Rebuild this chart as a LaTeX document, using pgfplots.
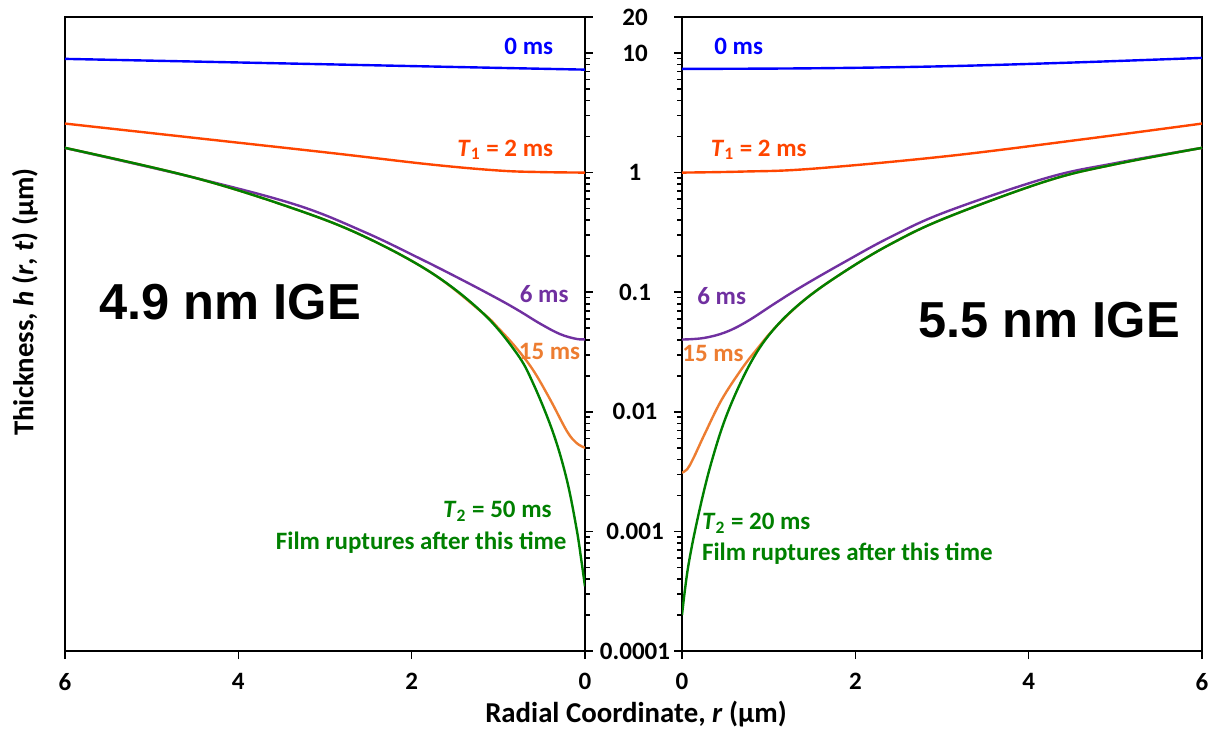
\documentclass[border=0pt]{standalone}
\usepackage{pgfplots}
\pgfplotsset{compat=1.18}
\usepackage{fontspec}
\setmainfont{Carlito}
\newfontfamily\arialfont{Liberation Sans}

\definecolor{cblue}{RGB}{0,0,255}
\definecolor{cred}{RGB}{255,69,0}
\definecolor{cpurple}{RGB}{112,48,160}
\definecolor{corange}{RGB}{237,125,49}
\definecolor{cgreen}{RGB}{0,128,0}

\newcommand{\lbl}{\bfseries\fontsize{12.5}{15}\selectfont}

\pgfplotsset{
  panel/.style={
    anchor=south west, scale only axis,
    width=260pt, height=317pt,
    xmin=0, xmax=6, ymin=0.0001, ymax=20,
    xtick={0,2,4,6}, xticklabels={0,2,4,6},
    ytick={0.0001,0.001,0.01,0.1,1,10,20},
    minor ytick={0.0002,0.0003,0.0004,0.0005,0.0006,0.0007,0.0008,0.0009,
      0.002,0.003,0.004,0.005,0.006,0.007,0.008,0.009,
      0.02,0.03,0.04,0.05,0.06,0.07,0.08,0.09,
      0.2,0.3,0.4,0.5,0.6,0.7,0.8,0.9,
      2,3,4,5,6,7,8,9},
    tick align=outside, xtick pos=bottom,
    major tick length=4pt, minor tick length=2.5pt,
    tick style={black, line width=0.8pt},
    axis line style={line width=1.1pt},
    ticklabel style={font=\lbl},
    xticklabel style={yshift=-3.5pt},
    clip mode=individual,
  },
  crv/.style={smooth, tension=0.6, line width=1.2pt, mark=none, color=#1},
}

\begin{document}
\begin{tikzpicture}
\path[use as bounding box] (0pt,0pt) rectangle (604pt,364pt);

% left panel: 4.9 nm, r runs from 6 to 0
\begin{axis}[ymode=log, panel, at={(32.5pt,38.5pt)}, x dir=reverse,
  ytick pos=right, yticklabels={}]
\addplot[crv=cblue] coordinates {(0,7.26) (1.5,7.64) (3,8.05) (4.5,8.48) (6,8.93)};
\addplot[crv=cred] coordinates {(0,1.00) (0.5,1.01) (0.99,1.04) (1.77,1.167) (2.94,1.462) (4.5,1.95) (6,2.57)};
\addplot[crv=cpurple] coordinates {(0,0.0404) (0.1,0.0407) (0.29,0.0447) (0.52,0.0547) (0.75,0.0692) (0.98,0.0861) (1.37,0.1216) (1.9,0.1905) (2.55,0.320) (3.33,0.537) (4.5,0.904) (6,1.607)};
\addplot[crv=corange] coordinates {(0,0.0050) (0.1,0.0055) (0.21,0.00692) (0.4,0.0126) (0.6,0.0224) (0.8,0.0347) (1.0,0.0501) (1.18,0.0671) (1.77,0.145) (2.55,0.293) (3.33,0.491) (4.5,0.904) (6,1.61)};
\addplot[crv=cgreen] coordinates {(0,0.000347) (0.038,0.000546) (0.096,0.00104) (0.21,0.00271) (0.37,0.00676) (0.6,0.0174) (0.79,0.031) (1.18,0.0671) (1.77,0.145) (2.55,0.293) (3.33,0.491) (4.5,0.904) (6,1.61)};

\node[anchor=base east, inner sep=0, text=cblue, font=\lbl] at (axis cs:0.363,9.70) {0 ms};
\node[anchor=base east, inner sep=0, text=cred, font=\lbl] at (axis cs:0.363,1.369) {\textit{T}\textsubscript{1} = 2 ms};
\node[anchor=base east, inner sep=0, text=cpurple, font=\lbl] at (axis cs:0.185,0.0818) {6 ms};
\node[anchor=base east, inner sep=0, text=corange, font=\lbl] at (axis cs:0.051,0.02732) {15 ms};
\node[anchor=base east, inner sep=0, text=cgreen, font=\lbl] at (axis cs:0.381,0.001304) {\textit{T}\textsubscript{2} = 50 ms};
\node[anchor=base east, inner sep=0, text=cgreen, font=\lbl] at (axis cs:0.208,0.000704) {Film ruptures after this time};
\node[anchor=base west, inner sep=0, font=\arialfont\bfseries\fontsize{25.3}{30}\selectfont] at (axis cs:5.609,0.0590) {4.9 nm IGE};
\end{axis}

% right panel: 5.5 nm, r runs from 0 to 6
\begin{axis}[ymode=log, panel, at={(341pt,38.5pt)},
  ytick pos=left, yticklabels={0.0001,0.001,0.01,0.1,1,10,20},
  yticklabel style={anchor=center, xshift=-19.5pt}]
\addplot[crv=cblue] coordinates {(0,7.36) (1.5,7.45) (3,7.74) (4.5,8.32) (6,9.10)};
\addplot[crv=cred] coordinates {(0,1.0) (0.7,1.02) (1.48,1.074) (3.04,1.368) (4.6,1.888) (6,2.57)};
\addplot[crv=cpurple] coordinates {(0,0.0402) (0.25,0.0414) (0.5,0.0462) (0.75,0.0569) (1.09,0.0822) (1.4,0.1135) (1.87,0.178) (2.4,0.288) (3.04,0.468) (4.21,0.904) (5,1.20) (6,1.61)};
\addplot[crv=corange] coordinates {(0,0.0031) (0.06,0.00331) (0.13,0.00407) (0.265,0.0066) (0.457,0.0126) (0.69,0.0229) (0.85,0.0324) (1.07,0.0501) (1.42,0.0871) (1.87,0.148) (2.4,0.251) (3.04,0.417) (4.21,0.851) (5,1.175) (6,1.61)};
\addplot[crv=cgreen] coordinates {(0,0.0002) (0.07,0.000501) (0.19,0.00138) (0.34,0.0038) (0.53,0.0100) (0.8,0.0263) (1.07,0.0501) (1.42,0.0871) (1.87,0.148) (2.4,0.251) (3.04,0.417) (4.21,0.851) (5,1.175) (6,1.61)};

\node[anchor=base west, inner sep=0, text=cblue, font=\lbl] at (axis cs:0.369,9.70) {0 ms};
\node[anchor=base west, inner sep=0, text=cred, font=\lbl] at (axis cs:0.329,1.369) {\textit{T}\textsubscript{1} = 2 ms};
\node[anchor=base west, inner sep=0, text=cpurple, font=\lbl] at (axis cs:0.173,0.0787) {6 ms};
\node[anchor=base west, inner sep=0, text=corange, font=\lbl] at (axis cs:0.0,0.0263) {15 ms};
\node[anchor=base west, inner sep=0, text=cgreen, font=\lbl] at (axis cs:0.227,0.001035) {\textit{T}\textsubscript{2} = 20 ms};
\node[anchor=base west, inner sep=0, text=cgreen, font=\lbl] at (axis cs:0.227,0.000573) {Film ruptures after this time};
\node[anchor=base west, inner sep=0, font=\arialfont\bfseries\fontsize{25.3}{30}\selectfont] at (axis cs:2.723,0.04173) {5.5 nm IGE};
\end{axis}

\node[font=\bfseries\fontsize{14.4}{17}\selectfont] at (318pt,7pt) {Radial Coordinate, \textit{r} (µm)};
\node[rotate=90, font=\bfseries\fontsize{14.4}{17}\selectfont] at (12.5pt,213pt) {Thickness, \textit{h} (\textit{r}, \textit{t}) (µm)};
\end{tikzpicture}
\end{document}
